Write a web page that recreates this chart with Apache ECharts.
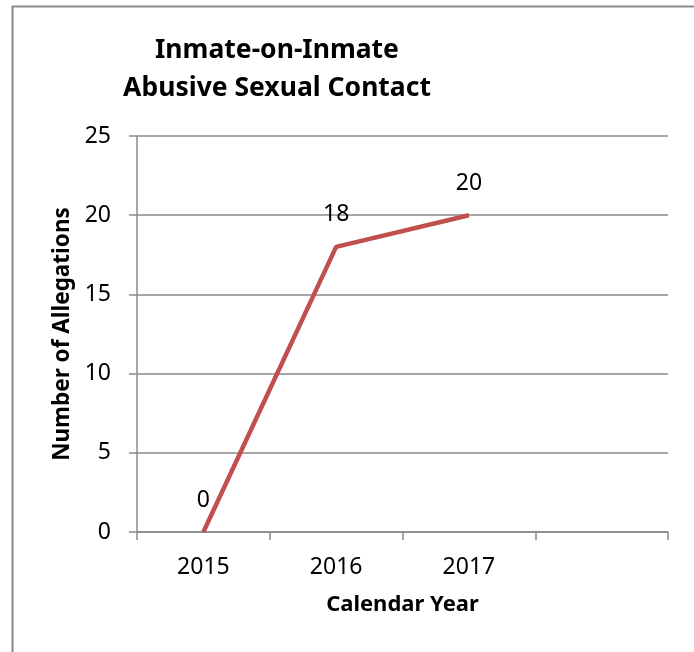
<!DOCTYPE html>
<html>
<head>
<meta charset="utf-8">
<script src="https://cdn.jsdelivr.net/npm/echarts@6/dist/echarts.min.js"></script>
<style>html,body{margin:0;padding:0;background:#fff;}#c{width:694px;height:652px;}</style>
</head>
<body>
<div id="c"></div>
<script>
var categories = ['2015', '2016', '2017', ''];
var allegations = [0, 18, 20, null];
var yTicks = [0, 5, 10, 15, 20, 25];

var chart = echarts.init(document.getElementById('c'));
var font = '"Noto Sans", "Open Sans", sans-serif';
chart.setOption({
  animation: false,
  backgroundColor: '#fff',
  title: {
    text: 'Inmate-on-Inmate\nAbusive Sexual Contact',
    left: 272, top: 26, textAlign: 'center',
    textStyle: { fontFamily: font, fontSize: 26.5, fontWeight: 'bold', color: '#000', lineHeight: 38 }
  },
  graphic: [{
    type: 'rect', left: 10, top: 4, shape: { width: 800, height: 800 },
    style: { fill: 'none', stroke: '#8a8a8a', lineWidth: 2 }, silent: true
  }],
  grid: { left: 137, right: 26, top: 136, bottom: 120 },
  xAxis: {
    type: 'category', data: categories, boundaryGap: true,
    name: 'Calendar Year', nameLocation: 'middle', nameGap: 62,
    nameTextStyle: { fontFamily: font, fontSize: 22, fontWeight: 'bold', color: '#000' },
    axisLine: { lineStyle: { color: '#8a8a8a', width: 1.5 } },
    axisTick: { show: true, interval: 0, length: 8, lineStyle: { color: '#8a8a8a', width: 1.5 } },
    axisLabel: { interval: 0, margin: 24, fontFamily: font, fontSize: 23, color: '#000' },
    splitLine: { show: false }
  },
  yAxis: {
    type: 'value', min: 0, max: 25, interval: 5,
    name: 'Number of Allegations', nameLocation: 'middle', nameGap: 63, nameRotate: 90,
    nameTextStyle: { fontFamily: font, fontSize: 22.5, fontWeight: 'bold', color: '#000' },
    axisLine: { show: true, lineStyle: { color: '#8a8a8a', width: 1.5 } },
    axisTick: { show: true, length: 8, lineStyle: { color: '#8a8a8a', width: 1.5 } },
    axisLabel: {
      margin: 26, fontFamily: font, fontSize: 23, color: '#000',
      formatter: function (v) { return yTicks.indexOf(v) >= 0 ? String(v) : ''; }
    },
    splitLine: { show: true, lineStyle: { color: '#8a8a8a', width: 1.5 } }
  },
  series: [{
    type: 'line', data: allegations, symbol: 'circle', symbolSize: 1, showSymbol: true,
    itemStyle: { color: '#C0504D' },
    lineStyle: { color: '#C0504D', width: 4.5 },
    label: { show: true, position: 'top', distance: 20, fontFamily: font, fontSize: 23, color: '#000' }
  }]
});
</script>
</body>
</html>
